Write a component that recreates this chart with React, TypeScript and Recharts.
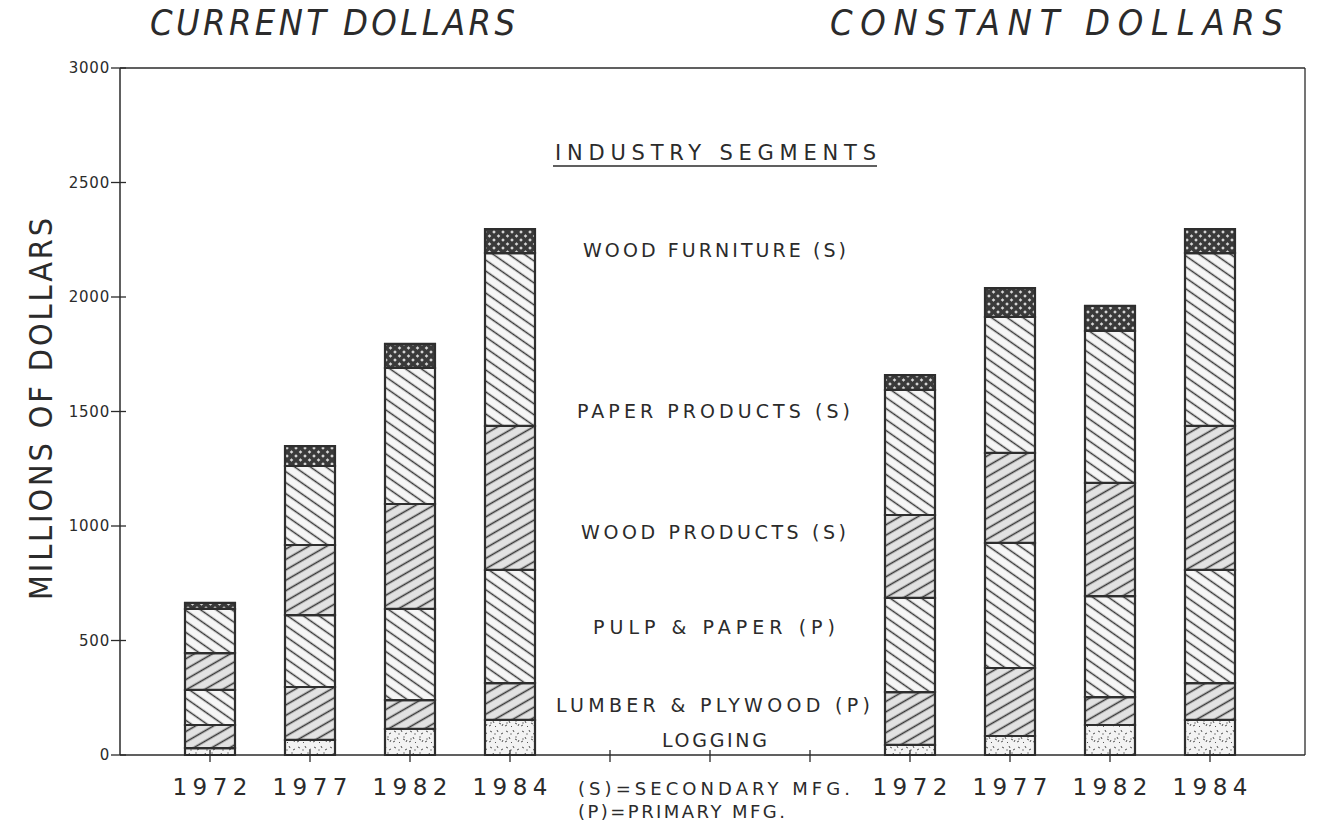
import React from "react";
import { BarChart, Bar, XAxis, YAxis, ReferenceLine } from "recharts";

// x slots: four current-dollar years, three empty slots (note sits in the middle), four constant-dollar years
const slots = ["cur-1972", "cur-1977", "cur-1982", "cur-1984", "gap-a", "note", "gap-b", "con-1972", "con-1977", "con-1982", "con-1984"];
const tickLabels = ["1972", "1977", "1982", "1984", "", "", "", "1972", "1977", "1982", "1984"];

// millions of dollars, bottom to top
const logging = [30, 66, 114, 153, null, null, null, 44, 83, 131, 153];
const lumberPlywood = [101, 231, 126, 161, null, null, null, 231, 297, 122, 161];
const pulpPaper = [153, 314, 398, 494, null, null, null, 411, 546, 441, 494];
const woodProducts = [161, 306, 458, 629, null, null, null, 362, 393, 494, 629];
const paperProducts = [193, 345, 594, 755, null, null, null, 546, 594, 664, 755];
const woodFurniture = [26, 87, 105, 105, null, null, null, 65, 126, 109, 105];

const yTicks = [0, 500, 1000, 1500, 2000, 2500, 3000];
const noteLines = ["(S)=SECONDARY MFG.", "(P)=PRIMARY MFG."];

const data = slots.map((slot, i) => ({
  slot,
  logging: logging[i],
  lumberPlywood: lumberPlywood[i],
  pulpPaper: pulpPaper[i],
  woodProducts: woodProducts[i],
  paperProducts: paperProducts[i],
  woodFurniture: woodFurniture[i],
}));

const INK = "#2b2b2b";
const FONT = "'DejaVu Sans', sans-serif";
const COND = "'DejaVu Sans Condensed', 'DejaVu Sans', sans-serif";
const AXIS_Y = 747;
const AXIS_X = 112;

const YTick = (props: any) => {
  const { y, payload } = props;
  return (
    <g>
      <line x1={AXIS_X - 9} x2={AXIS_X + 6} y1={y} y2={y} stroke={INK} strokeWidth={1.3} />
      <text x={102} y={y + 5} textAnchor="end" fontFamily={FONT} fontSize={15} fill={INK} letterSpacing={0.8}>
        {payload.value}
      </text>
    </g>
  );
};

const XTick = (props: any) => {
  const { x, index } = props;
  const label = tickLabels[index];
  return (
    <g>
      <line x1={x} x2={x} y1={AXIS_Y - 5} y2={AXIS_Y + 7} stroke={INK} strokeWidth={1.3} />
      {label ? (
        <text x={x} y={AXIS_Y + 40} textAnchor="middle" fontFamily={FONT} fontSize={23} fill={INK} textLength={75} lengthAdjust="spacing">
          {label}
        </text>
      ) : null}
      {slots[index] === "note"
        ? noteLines.map((line, k) => (
            <text key={k} x={x - 132} y={AXIS_Y + 40 + k * 23} fontFamily={FONT} fontSize={18} fill={INK} textLength={k === 0 ? 272 : 207} lengthAdjust="spacing">
              {line}
            </text>
          ))
        : null}
    </g>
  );
};

// page coordinates
const segmentLabels = [
  { text: "WOOD FURNITURE (S)", x: 583, y: 257, w: 263 },
  { text: "PAPER PRODUCTS (S)", x: 577, y: 418, w: 273 },
  { text: "WOOD PRODUCTS (S)", x: 581, y: 539, w: 265 },
  { text: "PULP & PAPER (P)", x: 593, y: 634, w: 242 },
  { text: "LUMBER & PLYWOOD (P)", x: 556, y: 712, w: 314 },
  { text: "LOGGING", x: 662, y: 747, w: 105 },
];

const Patterns = () => (
  <svg width={0} height={0} style={{ position: "absolute" }}>
    <defs>
      <pattern id="pat-logging" width={16} height={16} patternUnits="userSpaceOnUse">
        <rect width={16} height={16} fill="#f3f3f3" />
        <path d="M2 3l2 1M9 2l1 2M13 6l2-1M5 9l1 2M11 11l2 1M1 14l2-1M7 14l1 1M14 14l1-2" stroke="#555" strokeWidth={1} />
        <circle cx={7} cy={6} r={0.7} fill="#555" />
        <circle cx={3} cy={11} r={0.7} fill="#555" />
        <circle cx={12} cy={9} r={0.7} fill="#555" />
      </pattern>
      <pattern id="pat-fwd" width={12} height={9} patternUnits="userSpaceOnUse" patternTransform="rotate(-30)">
        <rect width={12} height={9} fill="#e2e2e2" />
        <line x1={0} x2={12} y1={4.5} y2={4.5} stroke="#363636" strokeWidth={1.6} />
      </pattern>
      <pattern id="pat-back" width={12} height={9} patternUnits="userSpaceOnUse" patternTransform="rotate(35)">
        <rect width={12} height={9} fill="#f6f6f6" />
        <line x1={0} x2={12} y1={4.5} y2={4.5} stroke="#363636" strokeWidth={1.5} />
      </pattern>
      <pattern id="pat-cross" width={9} height={8} patternUnits="userSpaceOnUse">
        <rect width={9} height={8} fill="#3a3a3a" />
        <path d="M4.5 2.3l1.8 1.7-1.8 1.7-1.8-1.7z" fill="#d8d8d8" />
        <path d="M0 -1.7l1.8 1.7-1.8 1.7zM9 -1.7l-1.8 1.7 1.8 1.7zM0 6.3l1.8 1.7-1.8 1.7zM9 6.3l-1.8 1.7 1.8 1.7z" fill="#d8d8d8" />
      </pattern>
    </defs>
  </svg>
);

const series = [
  { key: "logging", fill: "url(#pat-logging)" },
  { key: "lumberPlywood", fill: "url(#pat-fwd)" },
  { key: "pulpPaper", fill: "url(#pat-back)" },
  { key: "woodProducts", fill: "url(#pat-fwd)" },
  { key: "paperProducts", fill: "url(#pat-back)" },
  { key: "woodFurniture", fill: "url(#pat-cross)" },
];

const App: React.FC = () => {
  return (
    <div style={{ position: "relative", width: 1309, height: 813, background: "#fff" }}>
      <Patterns />
      <BarChart
        width={1309}
        height={813}
        data={data}
        barSize={50}
        margin={{ top: 60, right: 11, left: 52, bottom: 16 }}
      >
        <XAxis
          dataKey="slot"
          interval={0}
          padding={{ left: 40, right: 45 }}
          height={50}
          tickLine={false}
          tick={<XTick />}
          axisLine={{ stroke: INK, strokeWidth: 1.5 }}
        />
        <YAxis
          domain={[0, 3000]}
          ticks={yTicks}
          width={60}
          tickLine={false}
          tick={<YTick />}
          axisLine={{ stroke: INK, strokeWidth: 1.5 }}
        />
        <YAxis yAxisId="right" orientation="right" width={1} domain={[0, 3000]} tick={false} tickLine={false} axisLine={{ stroke: INK, strokeWidth: 1.3 }} />
        <ReferenceLine y={3000} stroke={INK} strokeWidth={1.3} ifOverflow="visible" />
        {series.map((s) => (
          <Bar
            key={s.key}
            dataKey={s.key}
            stackId="a"
            fill={s.fill}
            stroke="#2e2e2e"
            strokeWidth={2.2}
            isAnimationActive={false}
          />
        ))}
      </BarChart>
      <svg width={1317} height={821} style={{ position: "absolute", left: -8, top: -8, pointerEvents: "none" }}>
        <text x={150} y={35} fontFamily={COND} fontStyle="italic" fontSize={36} fill={INK} textLength={365} lengthAdjust="spacing">
          CURRENT DOLLARS
        </text>
        <text x={830} y={35} fontFamily={COND} fontStyle="italic" fontSize={36} fill={INK} textLength={453} lengthAdjust="spacing">
          CONSTANT DOLLARS
        </text>
        <text x={555} y={160} fontFamily={FONT} fontSize={21} fill={INK} textLength={321} lengthAdjust="spacing">
          INDUSTRY SEGMENTS
        </text>
        <line x1={553} x2={877} y1={166} y2={166} stroke={INK} strokeWidth={1.4} />
        {segmentLabels.map((l) => (
          <text key={l.text} x={l.x} y={l.y} fontFamily={FONT} fontSize={19} fill={INK} textLength={l.w} lengthAdjust="spacing">
            {l.text}
          </text>
        ))}
        <text
          transform="translate(52,409) rotate(-90)"
          textAnchor="middle"
          fontFamily={COND}
          fontSize={32}
          fill={INK}
          textLength={382}
          lengthAdjust="spacing"
        >
          MILLIONS OF DOLLARS
        </text>
      </svg>
    </div>
  );
};

export default App;
